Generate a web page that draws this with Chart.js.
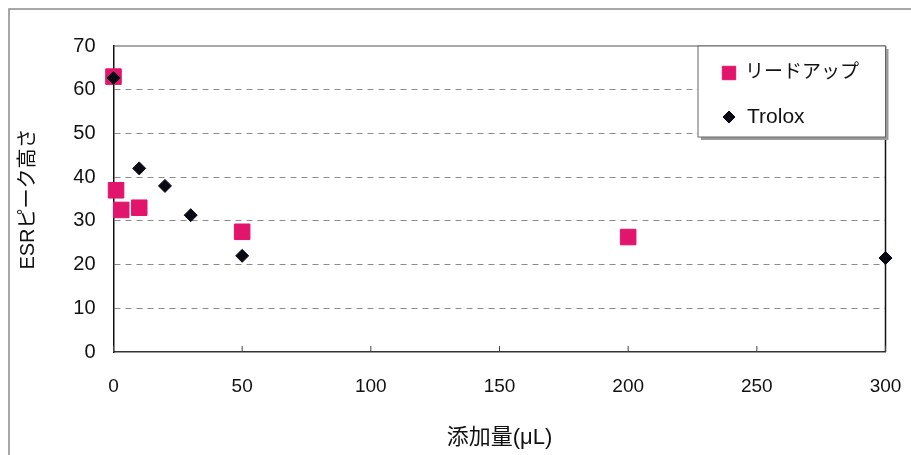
<!DOCTYPE html>
<html>
<head>
<meta charset="utf-8">
<script src="https://cdn.jsdelivr.net/npm/chart.js@4"></script>
<style>
  html, body { margin: 0; padding: 0; background: #fff; }
  #wrap { width: 911px; height: 455px; position: relative; }
</style>
</head>
<body>
<div id="wrap"><canvas id="esrChart"></canvas></div>
<script>
// --- data ---
const leadupX = [0, 1, 3, 10, 50, 200];
const leadupY = [63, 37, 32.5, 33, 27.5, 26.3];
const troloxX = [0, 10, 20, 30, 50, 300];
const troloxY = [62.7, 42, 38, 31.3, 22, 21.5];
const xTicks = [0, 50, 100, 150, 200, 250, 300];
const yTicks = [0, 10, 20, 30, 40, 50, 60, 70];

const PINK = '#E2156C';
const FONT = "'Liberation Sans', Arial, sans-serif";
const JFONT = "'Liberation Sans', 'Noto Sans CJK JP', sans-serif";

function toPoints(xs, ys) {
    return xs.map((x, i) => ({ x: x, y: ys[i] }));
}

// frame around the plot, inner tick marks, outer picture border, legend box
const framePlugin = {
    id: 'frame',
    beforeDatasetsDraw(chart) {
        const { ctx, chartArea: a, scales } = chart;
        ctx.save();
        // outer border (only left / top visible in the crop)
        ctx.strokeStyle = '#8a8a8a';
        ctx.lineWidth = 1.5;
        ctx.beginPath();
        ctx.moveTo(9, 460);
        ctx.lineTo(9, 9);
        ctx.lineTo(920, 9);
        ctx.stroke();
        // top + right edge of the plot
        ctx.strokeStyle = '#555';
        ctx.lineWidth = 1.2;
        ctx.beginPath();
        ctx.moveTo(a.left, a.top);
        ctx.lineTo(a.right, a.top);
        ctx.stroke();
        ctx.strokeStyle = '#111';
        ctx.lineWidth = 1.5;
        ctx.beginPath();
        ctx.moveTo(a.right, a.top);
        ctx.lineTo(a.right, a.bottom);
        ctx.stroke();
        // little inward ticks on the x axis
        ctx.strokeStyle = '#444';
        ctx.lineWidth = 1;
        xTicks.forEach(v => {
            const px = scales.x.getPixelForValue(v);
            ctx.beginPath();
            ctx.moveTo(px, a.bottom);
            ctx.lineTo(px, a.bottom - 6);
            ctx.stroke();
        });
        ctx.restore();
    },
    afterDraw(chart) {
        const { ctx, chartArea: a } = chart;
        const bx = 698, by = a.top, bw = a.right - 698, bh = 91;
        ctx.save();
        // shadow
        ctx.fillStyle = '#9a9a9a';
        ctx.fillRect(bx + 3, by + 3, bw, bh);
        ctx.fillStyle = '#fff';
        ctx.fillRect(bx, by, bw, bh);
        ctx.strokeStyle = '#666';
        ctx.lineWidth = 1;
        ctx.strokeRect(bx, by, bw, bh);
        // items
        const rows = [73, 117];
        chart.data.datasets.forEach((ds, i) => {
            const y = rows[i];
            ctx.fillStyle = ds.backgroundColor;
            ctx.strokeStyle = ds.borderColor;
            ctx.lineWidth = 1;
            const r = ds.pointStyle === 'rect' ? 9.5 : 6;
            Chart.helpers.drawPoint(ctx, { pointStyle: ds.pointStyle, rotation: 0, radius: r, borderWidth: 1 }, 729, y);
            ctx.fillStyle = '#111';
            ctx.textBaseline = 'middle';
            ctx.textAlign = 'left';
            ctx.font = (i === 0 ? '19px ' + JFONT : '21px ' + FONT);
            ctx.fillText(ds.label, i === 0 ? 745 : 747, y);
        });
        ctx.restore();
    }
};

new Chart(document.getElementById('esrChart'), {
    type: 'scatter',
    data: {
        datasets: [
            {
                label: 'リードアップ',
                data: toPoints(leadupX, leadupY),
                pointStyle: 'rect',
                pointRadius: 11,
                backgroundColor: PINK,
                borderColor: PINK,
                borderWidth: 1,
                order: 1,
                clip: false
            },
            {
                label: 'Trolox',
                data: toPoints(troloxX, troloxY),
                pointStyle: 'rectRot',
                pointRadius: 6.5,
                backgroundColor: '#0a0a14',
                borderColor: '#0a0a14',
                borderWidth: 1,
                order: 0,
                clip: false
            }
        ]
    },
    options: {
        responsive: true,
        maintainAspectRatio: false,
        animation: false,
        events: [],
        layout: { padding: { left: 0, top: 46, right: 25.5, bottom: 0 } },
        plugins: {
            legend: { display: false },
            tooltip: { enabled: false }
        },
        scales: {
            x: {
                type: 'linear',
                min: 0,
                max: 300,
                afterBuildTicks(scale) { scale.ticks = xTicks.map(v => ({ value: v })); },
                afterFit(scale) {
                    scale.height = 103;
                    // the edge labels would otherwise push the plot inwards
                    scale.paddingLeft = 0;
                    scale.paddingRight = 0;
                },
                grid: { display: true, drawOnChartArea: false, drawTicks: false },
                border: { display: true, color: '#333', width: 1.5 },
                ticks: {
                    padding: 23,
                    color: '#111',
                    font: { family: FONT, size: 19 }
                },
                title: {
                    display: true,
                    text: '添加量(μL)',
                    color: '#111',
                    font: { family: JFONT, size: 22 },
                    padding: { top: 0, bottom: 4 }
                }
            },
            y: {
                type: 'linear',
                min: 0,
                max: 70,
                afterBuildTicks(scale) { scale.ticks = yTicks.map(v => ({ value: v })); },
                afterFit(scale) { scale.width = 113.5; },
                grid: {
                    drawTicks: false,
                    color: ctx => (ctx.tick && (ctx.tick.value === 0 || ctx.tick.value === 70)) ? 'rgba(0,0,0,0)' : '#8c8c8c',
                    lineWidth: 1
                },
                border: { display: true, color: '#111', width: 1.5, dash: [6, 5] },
                ticks: {
                    padding: 18,
                    color: '#111',
                    font: { family: FONT, size: 20 }
                },
                title: {
                    display: true,
                    text: 'ESRピーク高さ',
                    color: '#111',
                    font: { family: JFONT, size: 20 },
                    padding: { top: 16, bottom: 0 }
                }
            }
        }
    },
    plugins: [framePlugin]
});
</script>
</body>
</html>
